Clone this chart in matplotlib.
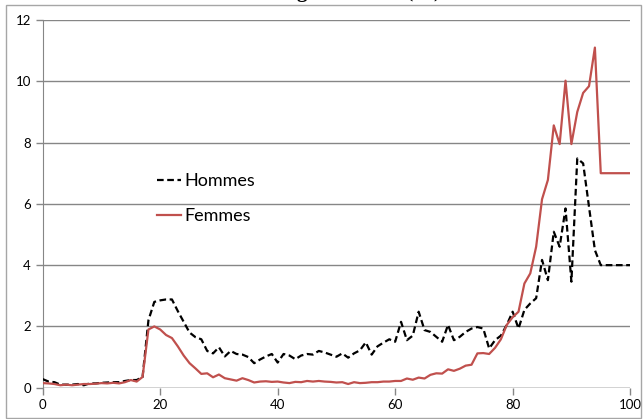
import numpy as np
import matplotlib
matplotlib.use("Agg")
import matplotlib.pyplot as plt
from matplotlib.patches import Rectangle

ages = list(range(0, 101))

hommes = [0.28, 0.2, 0.18, 0.1, 0.1, 0.1, 0.12, 0.08, 0.14, 0.14,
          0.16, 0.17, 0.18, 0.18, 0.22, 0.25, 0.25, 0.35, 2.2, 2.8,
          2.85, 2.88, 2.88, 2.5, 2.15, 1.8, 1.65, 1.58, 1.2, 1.12,
          1.32, 1.02, 1.2, 1.1, 1.08, 1.0, 0.8, 0.92, 1.02, 1.1,
          0.82, 1.1, 1.05, 0.93, 1.05, 1.1, 1.08, 1.2, 1.15, 1.08,
          1.01, 1.12, 0.98, 1.12, 1.22, 1.48, 1.08, 1.35, 1.47, 1.58,
          1.5, 2.15, 1.55, 1.7, 2.48, 1.88, 1.82, 1.66, 1.5, 2.05,
          1.55, 1.66, 1.82, 1.93, 1.98, 1.93, 1.28, 1.55, 1.7, 2.05,
          2.48, 1.93, 2.54, 2.75, 2.92, 4.17, 3.51, 5.09, 4.6, 5.85,
          3.46, 7.48, 7.32, 5.9, 4.49, 4.0, 4.0, 4.0, 4.0, 4.0,
          4.0]

femmes = [0.15, 0.14, 0.12, 0.08, 0.1, 0.08, 0.1, 0.12, 0.12, 0.13,
          0.15, 0.14, 0.16, 0.14, 0.18, 0.25, 0.2, 0.35, 1.9, 2.0,
          1.9, 1.72, 1.62, 1.35, 1.05, 0.8, 0.63, 0.45, 0.47, 0.34,
          0.43, 0.31, 0.27, 0.23, 0.31, 0.25, 0.17, 0.2, 0.21, 0.19,
          0.2, 0.17, 0.15, 0.19, 0.18, 0.22, 0.2, 0.22, 0.2, 0.19,
          0.17, 0.18, 0.12, 0.18, 0.15, 0.16, 0.18, 0.18, 0.2, 0.2,
          0.22, 0.22, 0.3, 0.26, 0.33, 0.3, 0.42, 0.47, 0.46, 0.6,
          0.55, 0.62, 0.72, 0.75, 1.12, 1.13, 1.1, 1.3, 1.58, 2.05,
          2.3, 2.48, 3.4, 3.73, 4.6, 6.15, 6.78, 8.56, 7.95, 10.02,
          7.95, 9.0, 9.62, 9.84, 11.1, 7.0, 7.0, 7.0, 7.0, 7.0,
          7.0]

x_ticks = [0, 20, 40, 60, 80, 100]
y_ticks = [0, 2, 4, 6, 8, 10, 12]

plt.rcParams['font.family'] = ['Lato', 'DejaVu Sans']

fig = plt.figure(figsize=(6.43, 4.19), dpi=100)
ax = fig.add_axes([0.0664, 0.0747, 0.9136, 0.8776])

# cadre du graphique
fig.patches.append(Rectangle((6 / 643, 1 / 419), 635 / 643, 413 / 419,
                             transform=fig.transFigure, fill=False,
                             edgecolor='#a6a6a6', linewidth=1))

# titre (coupé par le bord haut dans l'original)
fig.text(0.39, 1 + 3 / 419, "Taux de mortalité selon l'âge et le sexe (‰)",
         ha='center', va='baseline', fontsize=15, fontweight='bold',
         family='Liberation Serif')

ax.plot(ages, hommes, color='black', linestyle='--', linewidth=1.6,
        dashes=(3, 1.6), label='Hommes', zorder=3)
ax.plot(ages, femmes, color='#c0504d', linewidth=1.6, label='Femmes', zorder=3)

ax.set_xlim(0, 100)
ax.set_ylim(0, 12)
ax.set_xticks(x_ticks)
ax.set_yticks(y_ticks)
ax.grid(axis='y', color='#868686', linewidth=1)
ax.set_axisbelow(True)

for side in ['top', 'right', 'bottom']:
    ax.spines[side].set_visible(False)
ax.spines['left'].set_color('#868686')
ax.tick_params(axis='both', colors='#868686', labelcolor='black',
               labelsize=9.5, length=5, width=1)
ax.tick_params(axis='x', pad=3)
ax.axhline(0, color='#868686', linewidth=1, zorder=2)

ax.legend(loc='upper left', bbox_to_anchor=(148 / 643, 1 - 164 / 419),
          bbox_transform=fig.transFigure, frameon=False, fontsize=13,
          handlelength=1.3, handletextpad=0.2, labelspacing=1.05,
          borderpad=0)

fig.savefig('out.png', dpi=100)
